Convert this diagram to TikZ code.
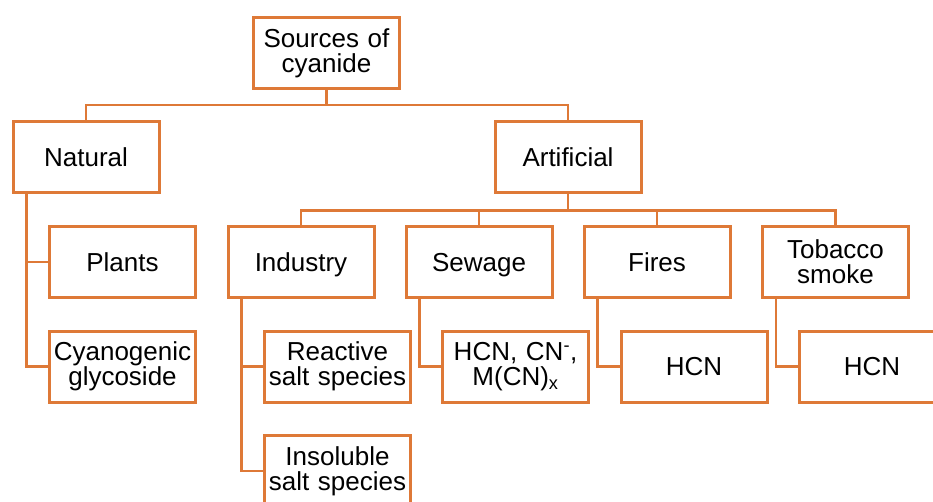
\documentclass[tikz,border=0pt]{standalone}
\usepackage{fontspec}
\setmainfont{Liberation Sans}
\definecolor{orng}{RGB}{222,121,55}
\begin{document}
\begin{tikzpicture}[x=1pt,y=-1pt,
  box/.style={draw=orng,line width=3pt,fill=white,rectangle,minimum width=146pt,minimum height=71pt,
    text width=146pt,inner sep=0pt,align=center,font=\fontsize{26}{25}\selectfont},
  one/.style={box,text depth=0pt},
  conn/.style={draw=orng,line width=2.4pt}]
\useasboundingbox (0,0) rectangle (933,502);
\clip (0,0) rectangle (933,502);
\node[box] (src) at (326.5,53) {Sources of\\cyanide};
\node[one] (nat) at (86,157.5) {Natural};
\node[one] (art) at (568,157.5) {Artificial};
\node[one] (plants) at (122.5,262) {Plants};
\node[box] (cyan) at (122.5,366.5) {Cyanogenic\\glycoside};
\node[one] (ind) at (301,262) {Industry};
\node[one] (sew) at (479,262) {Sewage};
\node[one] (fir) at (657,262) {Fires};
\node[box] (tob) at (835.5,262) {Tobacco\\smoke};
\node[box] (react) at (337.5,366.5) {Reactive\\salt species};
\node[box] (insol) at (337.5,471) {Insoluble\\salt species};
\node[box] (hcnA) at (515.5,366.5) {HCN, CN\textsuperscript{-},\\M(CN)\textsubscript{x}};
\node[one] (hcnB) at (694,366.5) {HCN};
\node[one] (hcnC) at (872,366.5) {HCN};
% top bus
\coordinate (tb) at ([yshift=-15pt]src.south);
\draw[conn] (src.south) -- (tb);
\draw[conn] (nat.north) |- (tb) -| (art.north);
% natural branch
\coordinate (nb) at ([xshift=15pt]nat.south west);
\draw[conn] (nb) |- (plants.west);
\draw[conn] (nb) |- (cyan.west);
% artificial bus
\coordinate (ab) at ([yshift=-16pt]art.south);
\draw[conn] (art.south) -- (ab);
\draw[conn] (ind.north) |- (ab) -| (tob.north);
\draw[conn] (sew.north) -- (sew.north |- ab);
\draw[conn] (fir.north) -- (fir.north |- ab);
% industry branch
\coordinate (ib) at ([xshift=15pt]ind.south west);
\draw[conn] (ib) |- (react.west);
\draw[conn] (ib) |- (insol.west);
% sewage
\coordinate (sb) at ([xshift=15pt]sew.south west);
\draw[conn] (sb) |- (hcnA.west);
% fires
\coordinate (fb) at ([xshift=15pt]fir.south west);
\draw[conn] (fb) |- (hcnB.west);
% tobacco
\coordinate (tbb) at ([xshift=15pt]tob.south west);
\draw[conn] (tbb) |- (hcnC.west);
\end{tikzpicture}
\end{document}
